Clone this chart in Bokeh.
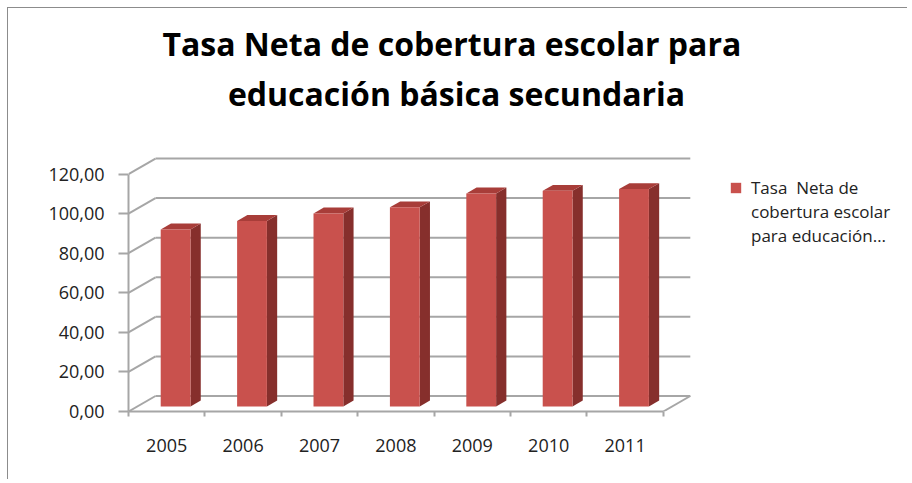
from bokeh.plotting import figure
from bokeh.models import (ColumnDataSource, Range1d, FixedTicker, Legend, LegendItem, Label)
from bokeh.embed import file_html
from bokeh.resources import INLINE

# ---- data ----
years = ["2005", "2006", "2007", "2008", "2009", "2010", "2011"]
tasa = [89.4, 93.7, 97.5, 100.6, 107.6, 108.9, 109.8]
y_ticks = [0, 20, 40, 60, 80, 100, 120]
y_tick_labels = ["0,00", "20,00", "40,00", "60,00", "80,00", "100,00", "120,00"]
series_lines = ["Tasa  Neta de", "cobertura escolar", "para educación…"]
title_lines = ["Tasa  Neta de cobertura escolar para", "educación básica secundaria"]

# ---- layout constants (page pixels; canvas starts at page x=8, y=8) ----
FONT = "Open Sans"
OX, OY = 8, 8
W, H = 900, 472
FRAME_LEFT_PX, FRAME_BOTTOM_PX = 128, 411
LEFT = FRAME_LEFT_PX - OX
BOTTOM = OY + H - FRAME_BOTTOM_PX
PX_CAT = 76.4          # pixels per category
PX_UNIT = 1.979        # pixels per value unit
frame_w = W - LEFT
frame_h = H - BOTTOM
x_end = frame_w / PX_CAT
y_end = frame_h / PX_UNIT
DX = 27 / PX_CAT       # depth offset (data units)
DY = 15.5 / PX_UNIT
HALF = 0.195           # half bar width
F1, F2 = 0.33, 0.71    # bar front / back depth fractions
GRID = "#a6a6a6"
FRONT, SIDE, TOP = "#c9514d", "#862f2c", "#a83d39"


def px_to_x(px):
    return (px - FRAME_LEFT_PX) / PX_CAT


def px_to_y(py):
    return (FRAME_BOTTOM_PX - py) / PX_UNIT


n = len(years)
ymax = y_ticks[-1]

p = figure(width=W, height=H, output_backend="svg", toolbar_location=None,
           x_range=Range1d(0, x_end), y_range=Range1d(0, y_end),
           min_border_left=LEFT, min_border_bottom=BOTTOM,
           min_border_top=0, min_border_right=0)
p.outline_line_color = None
p.xgrid.visible = False
p.ygrid.visible = False
p.styles = {"margin-left": f"{OX - 1}px", "margin-top": f"{OY - 1}px",
            "border-top": "1px solid #8c8c8c", "border-left": "1px solid #8c8c8c"}

# ---- 3D walls: back wall horizontals + side diagonals ----
p.segment(x0=[DX] * len(y_ticks), y0=[t + DY for t in y_ticks],
          x1=[n + DX] * len(y_ticks), y1=[t + DY for t in y_ticks],
          line_color=GRID, line_width=2)
p.segment(x0=[0] * len(y_ticks), y0=y_ticks,
          x1=[DX] * len(y_ticks), y1=[t + DY for t in y_ticks],
          line_color=GRID, line_width=2)
p.segment(x0=[n], y0=[0], x1=[n + DX], y1=[DY], line_color=GRID, line_width=2)

# ---- bars ----
lefts = [i + 0.5 - HALF for i in range(n)]
rights = [i + 0.5 + HALF for i in range(n)]
src = ColumnDataSource(dict(
    left=[l + F1 * DX for l in lefts],
    right=[r + F1 * DX for r in rights],
    bottom=[F1 * DY] * n,
    top=[v + F1 * DY for v in tasa],
))
side_xs = [[r + F1 * DX, r + F2 * DX, r + F2 * DX, r + F1 * DX] for r in rights]
side_ys = [[F1 * DY, F2 * DY, v + F2 * DY, v + F1 * DY] for v in tasa]
top_xs = [[l + F1 * DX, r + F1 * DX, r + F2 * DX, l + F2 * DX] for l, r in zip(lefts, rights)]
top_ys = [[v + F1 * DY, v + F1 * DY, v + F2 * DY, v + F2 * DY] for v in tasa]
p.patches(xs=side_xs, ys=side_ys, fill_color=SIDE, line_color=None)
p.patches(xs=top_xs, ys=top_ys, fill_color=TOP, line_color=None)
front = p.quad(source=src, left="left", right="right", bottom="bottom", top="top",
               fill_color=FRONT, line_color=None)
# invisible renderer for continuation lines of the legend label
blank = p.quad(left=[], right=[], bottom=[], top=[], fill_alpha=0, line_alpha=0)

# ---- axes ----
ya = p.yaxis[0]
ya.ticker = FixedTicker(ticks=y_ticks, minor_ticks=[])
ya.major_label_overrides = dict(zip(y_ticks, y_tick_labels))
ya.bounds = (0, ymax)
ya.axis_line_color = GRID
ya.axis_line_width = 2
ya.major_tick_line_color = GRID
ya.major_tick_line_width = 2
ya.major_tick_out = 10
ya.major_tick_in = 0
ya.major_label_standoff = 14
ya.major_label_text_font = FONT
ya.major_label_text_font_size = "18px"
ya.major_label_text_color = "#222222"

centers = [i + 0.5 for i in range(n)]
xa = p.xaxis[0]
xa.ticker = FixedTicker(ticks=centers, minor_ticks=list(range(n + 1)))
xa.major_label_overrides = dict(zip(centers, years))
xa.bounds = (0, n)
xa.axis_line_color = GRID
xa.axis_line_width = 2
xa.major_tick_line_color = None
xa.major_tick_out = 0
xa.major_tick_in = 0
xa.minor_tick_line_color = GRID
xa.minor_tick_line_width = 2
xa.minor_tick_out = 5
xa.minor_tick_in = 0
xa.major_label_standoff = 22
xa.major_label_text_font = FONT
xa.major_label_text_font_size = "18px"
xa.major_label_text_color = "#222222"

# ---- title ----
for line, x_px, y_px in zip(title_lines, [455.5, 456], [43, 93]):
    p.add_layout(Label(x=px_to_x(x_px), y=px_to_y(y_px),
                       text=line, text_align="center", text_baseline="alphabetic",
                       text_font=FONT, text_font_style="bold",
                       text_font_size="32px", text_color="black"))

# ---- legend ----
renderers = [[front], [blank], [blank]]
legend = Legend(items=[LegendItem(label=t, renderers=r) for t, r in zip(series_lines, renderers)],
                location=(601, 164), glyph_width=13, glyph_height=13,
                label_text_font=FONT, label_text_font_size="17px",
                label_text_color="#222222", label_height=21,
                label_standoff=9, padding=0, margin=0, spacing=1,
                border_line_color=None, background_fill_alpha=0)
p.add_layout(legend)

open("out.html", "w").write(file_html(p, INLINE))
